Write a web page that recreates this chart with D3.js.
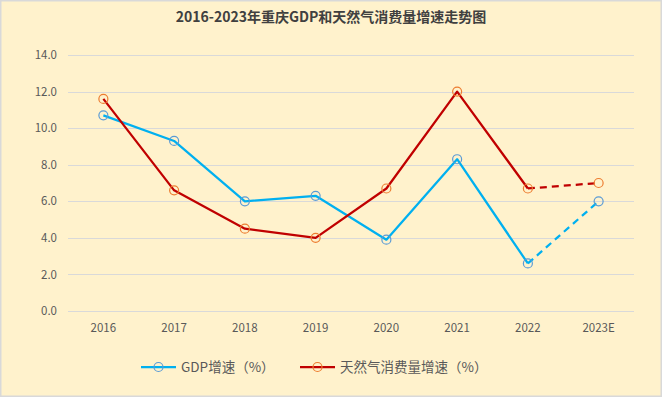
<!DOCTYPE html>
<html>
<head>
<meta charset="utf-8">
<script src="https://cdn.jsdelivr.net/npm/d3@7/dist/d3.min.js"></script>
<style>
body { margin: 0; background: #fff; }
svg { display: block; font-family: "Noto Sans CJK SC", "Noto Sans", sans-serif; }
</style>
</head>
<body>
<script>
var years = ["2016", "2017", "2018", "2019", "2020", "2021", "2022", "2023E"];
var gdpGrowth = [10.7, 9.3, 6.0, 6.3, 3.9, 8.3, 2.6, 6.0];
var gasGrowth = [11.6, 6.6, 4.5, 4.0, 6.7, 12.0, 6.7, 7.0];
var yTicks = [0, 2, 4, 6, 8, 10, 12, 14];
var seriesNames = ["GDP增速（%）", "天然气消费量增速（%）"];

var w = 662;
var h = 397;
var plotLeft = 68, plotRight = 634, plotTop = 55, plotBottom = 311;

var svg = d3.select("body")
    .append("svg")
    .attr("width", w)
    .attr("height", h);

// 背景
svg.append("rect")
    .attr("x", 0.75).attr("y", 0.75)
    .attr("width", w - 1.5).attr("height", h - 1.5)
    .attr("fill", "#FFF2CC")
    .attr("stroke", "#D9D9D9")
    .attr("stroke-width", 1.5);

svg.append("text")
    .attr("x", w / 2)
    .attr("y", 22)
    .attr("text-anchor", "middle")
    .attr("font-size", "14px")
    .attr("font-weight", "bold")
    .attr("fill", "#404040")
    .text("2016-2023年重庆GDP和天然气消费量增速走势图");

var xScale = d3.scaleBand()
    .domain(years)
    .range([plotLeft, plotRight]);
var yScale = d3.scaleLinear()
    .domain([0, 14])
    .range([plotBottom, plotTop]);

// 网格线
svg.append("g")
    .selectAll("line")
    .data(yTicks)
    .enter()
    .append("line")
    .attr("x1", plotLeft)
    .attr("x2", plotRight)
    .attr("y1", function (d) { return Math.round(yScale(d)) + 0.5; })
    .attr("y2", function (d) { return Math.round(yScale(d)) + 0.5; })
    .attr("stroke", "#D9D9D9")
    .attr("stroke-width", 1);

var yAxis = d3.axisLeft(yScale)
    .tickValues(yTicks)
    .tickFormat(d3.format(".1f"))
    .tickSize(0)
    .tickPadding(11);
var gy = svg.append("g")
    .attr("transform", "translate(" + plotLeft + ",0)")
    .call(yAxis);
gy.select(".domain").remove();
gy.selectAll("text")
    .attr("font-size", "11.5px")
    .attr("fill", "#595959")
    .attr("font-family", "\"Noto Sans CJK SC\", sans-serif");

var xAxis = d3.axisBottom(xScale).tickSize(0).tickPadding(13);
var gx = svg.append("g")
    .attr("transform", "translate(0," + plotBottom + ")")
    .call(xAxis);
gx.select(".domain").remove();
gx.selectAll("text")
    .attr("font-size", "11.5px")
    .attr("fill", "#595959")
    .attr("font-family", "\"Noto Sans CJK SC\", sans-serif");

function cx(i) { return xScale(years[i]) + xScale.bandwidth() / 2; }

var line = d3.line()
    .x(function (d) { return cx(d.i); })
    .y(function (d) { return yScale(d.v); });

function drawSeries(values, lineColor, markerColor) {
    var pts = values.map(function (v, i) { return { i: i, v: v }; });
    var n = pts.length;
    svg.append("path")
        .attr("d", line(pts.slice(0, n - 1)))
        .attr("fill", "none")
        .attr("stroke", lineColor)
        .attr("stroke-width", 2.25)
        .attr("stroke-linejoin", "round");
    svg.append("path")
        .attr("d", line(pts.slice(n - 2)))
        .attr("fill", "none")
        .attr("stroke", lineColor)
        .attr("stroke-width", 2.25)
        .attr("stroke-dasharray", "7,5");
    svg.append("g")
        .selectAll("circle")
        .data(pts)
        .enter()
        .append("circle")
        .attr("cx", function (d) { return cx(d.i); })
        .attr("cy", function (d) { return yScale(d.v); })
        .attr("r", 4.5)
        .attr("fill", "none")
        .attr("stroke", markerColor)
        .attr("stroke-width", 1.2);
}

drawSeries(gdpGrowth, "#00B0F0", "#5B9BD5");
drawSeries(gasGrowth, "#C00000", "#ED7D31");

// 图例
var legend = [
    { name: seriesNames[0], x: 141, line: "#00B0F0", marker: "#5B9BD5" },
    { name: seriesNames[1], x: 300, line: "#C00000", marker: "#ED7D31" }
];
var lg = svg.append("g")
    .selectAll("g")
    .data(legend)
    .enter()
    .append("g")
    .attr("transform", function (d) { return "translate(" + d.x + ",367)"; });
lg.append("line")
    .attr("x1", 0).attr("x2", 35)
    .attr("stroke", function (d) { return d.line; })
    .attr("stroke-width", 2.25);
lg.append("circle")
    .attr("cx", 17.5)
    .attr("r", 4.5)
    .attr("fill", "none")
    .attr("stroke", function (d) { return d.marker; })
    .attr("stroke-width", 1.2);
lg.append("text")
    .attr("x", 40)
    .attr("y", 5)
    .attr("font-size", "13.5px")
    .attr("fill", "#595959")
    .text(function (d) { return d.name; });
</script>
</body>
</html>
